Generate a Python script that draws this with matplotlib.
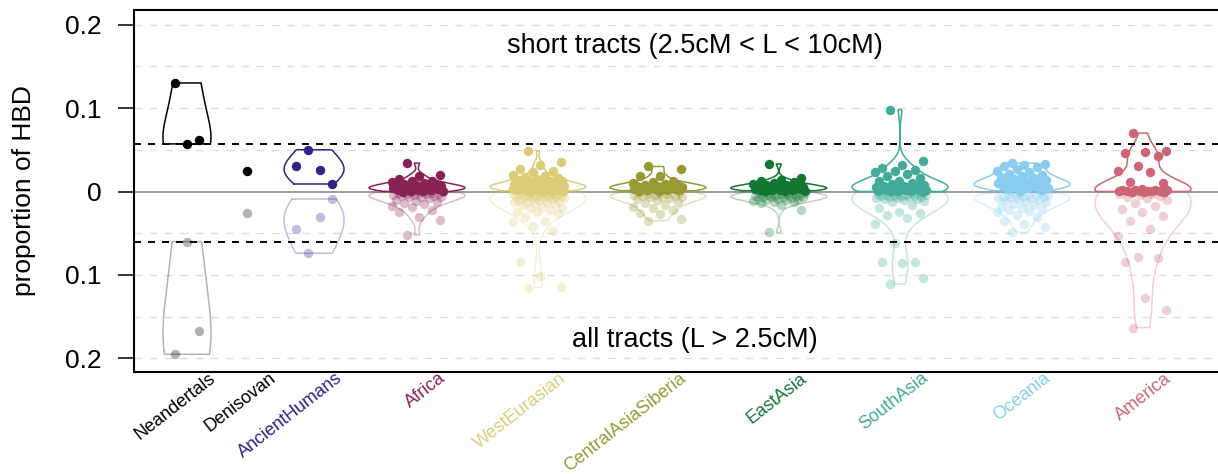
import numpy as np
import matplotlib
matplotlib.use("Agg")
import matplotlib.pyplot as plt
from matplotlib.transforms import blended_transform_factory

plt.rcParams["font.family"] = ["Liberation Sans", "DejaVu Sans"]

# ---- data: proportion of genome in HBD, per individual -------------------
categories = ["Neandertals", "Denisovan", "AncientHumans", "Africa", "WestEurasian",
              "CentralAsiaSiberia", "EastAsia", "SouthAsia", "Oceania", "America"]

neandertals_short = [0.130, 0.057, 0.062]
neandertals_all = [0.195, 0.060, 0.167]

denisovan_short = [0.025]
denisovan_all = [0.026]

ancient_short = [0.030, 0.050, 0.026, 0.009]
ancient_all = [0.045, 0.074, 0.030, 0.009]

africa_short = [0.034, 0.020, 0.019, 0.015, 0.013, 0.012, 0.011, 0.010, 0.009, 0.008,
                0.008, 0.007, 0.007, 0.006, 0.006, 0.005, 0.005, 0.004, 0.004, 0.004,
                0.003, 0.003, 0.003, 0.002, 0.002, 0.002, 0.001, 0.001, 0.001, 0.000]
africa_all = [0.052, 0.034, 0.030, 0.024, 0.022, 0.019, 0.017, 0.015, 0.014, 0.013,
              0.011, 0.010, 0.008, 0.007, 0.006, 0.006, 0.005, 0.005, 0.004, 0.004,
              0.003, 0.003, 0.003, 0.002, 0.002, 0.002, 0.001, 0.001, 0.001, 0.001]

westeurasian_short = [0.049, 0.035, 0.032, 0.027, 0.024, 0.023, 0.020, 0.018, 0.017, 0.016,
                      0.015, 0.014, 0.013, 0.013, 0.012, 0.011, 0.011, 0.010, 0.010, 0.009,
                      0.009, 0.008, 0.008, 0.008, 0.007, 0.007, 0.007, 0.006, 0.006, 0.006,
                      0.005, 0.005, 0.005, 0.005, 0.004, 0.004, 0.004, 0.004, 0.003, 0.003,
                      0.003, 0.003, 0.002, 0.002, 0.002, 0.002, 0.001, 0.001, 0.001, 0.001]
westeurasian_all = [0.115, 0.114, 0.101, 0.085, 0.047, 0.041, 0.036, 0.035, 0.030, 0.026,
                    0.024, 0.024, 0.022, 0.020, 0.020, 0.018, 0.016, 0.015, 0.014, 0.013,
                    0.013, 0.012, 0.011, 0.010, 0.010, 0.009, 0.009, 0.008, 0.008, 0.007,
                    0.007, 0.006, 0.006, 0.006, 0.005, 0.005, 0.005, 0.004, 0.004, 0.004,
                    0.003, 0.003, 0.003, 0.003, 0.002, 0.002, 0.002, 0.002, 0.001, 0.001]

centralasia_short = [0.030, 0.027, 0.019, 0.018, 0.013, 0.011, 0.010, 0.009, 0.008, 0.008,
                     0.007, 0.006, 0.006, 0.005, 0.005, 0.004, 0.004, 0.003, 0.003, 0.003,
                     0.002, 0.002, 0.002, 0.001, 0.001]
centralasia_all = [0.035, 0.033, 0.027, 0.026, 0.022, 0.020, 0.018, 0.016, 0.014, 0.012,
                   0.010, 0.009, 0.008, 0.007, 0.006, 0.006, 0.005, 0.005, 0.004, 0.004,
                   0.003, 0.003, 0.002, 0.002, 0.001]

eastasia_short = [0.033, 0.016, 0.014, 0.012, 0.011, 0.010, 0.009, 0.008, 0.008, 0.007,
                  0.007, 0.006, 0.006, 0.005, 0.005, 0.005, 0.004, 0.004, 0.004, 0.003,
                  0.003, 0.003, 0.003, 0.002, 0.002, 0.002, 0.002, 0.001, 0.001, 0.001]
eastasia_all = [0.049, 0.022, 0.016, 0.014, 0.013, 0.012, 0.011, 0.010, 0.010, 0.009,
                0.009, 0.008, 0.008, 0.007, 0.007, 0.006, 0.006, 0.005, 0.005, 0.005,
                0.004, 0.004, 0.004, 0.003, 0.003, 0.003, 0.002, 0.002, 0.002, 0.001]

southasia_short = [0.098, 0.036, 0.032, 0.028, 0.026, 0.025, 0.023, 0.021, 0.019, 0.016,
                   0.013, 0.012, 0.010, 0.009, 0.008, 0.007, 0.006, 0.006, 0.005, 0.005,
                   0.004, 0.004, 0.004, 0.003, 0.003, 0.003, 0.003, 0.002, 0.002, 0.002,
                   0.002, 0.001, 0.001, 0.001, 0.001, 0.000]
southasia_all = [0.111, 0.104, 0.086, 0.085, 0.084, 0.062, 0.039, 0.032, 0.028, 0.026,
                 0.024, 0.020, 0.016, 0.013, 0.011, 0.010, 0.009, 0.009, 0.008, 0.008,
                 0.007, 0.007, 0.006, 0.006, 0.005, 0.005, 0.005, 0.004, 0.004, 0.004,
                 0.003, 0.003, 0.003, 0.002, 0.002, 0.001]

oceania_short = [0.034, 0.033, 0.032, 0.031, 0.029, 0.027, 0.025, 0.023, 0.021, 0.020,
                 0.019, 0.017, 0.016, 0.015, 0.014, 0.013, 0.012, 0.011, 0.010, 0.010,
                 0.009, 0.008, 0.008, 0.007, 0.006, 0.006, 0.005, 0.004, 0.004, 0.003,
                 0.002, 0.001]
oceania_all = [0.049, 0.042, 0.039, 0.035, 0.030, 0.028, 0.025, 0.023, 0.022, 0.021,
               0.020, 0.018, 0.016, 0.015, 0.013, 0.012, 0.011, 0.010, 0.009, 0.008,
               0.008, 0.007, 0.007, 0.006, 0.006, 0.005, 0.005, 0.004, 0.004, 0.003,
               0.002, 0.002]

america_short = [0.070, 0.048, 0.047, 0.046, 0.042, 0.030, 0.025, 0.023, 0.011, 0.010,
                 0.003, 0.002, 0.002, 0.002, 0.002, 0.001, 0.001, 0.001, 0.001, 0.001,
                 0.001, 0.000, 0.000, 0.000]
america_all = [0.163, 0.142, 0.128, 0.085, 0.080, 0.079, 0.053, 0.045, 0.035, 0.029,
               0.024, 0.021, 0.017, 0.014, 0.010, 0.008, 0.006, 0.005, 0.004, 0.003,
               0.003, 0.002, 0.002, 0.001]

# reference thresholds (dashed lines)
short_threshold = 0.057
all_threshold = 0.0605

short_values = [neandertals_short, denisovan_short, ancient_short, africa_short,
                westeurasian_short, centralasia_short, eastasia_short, southasia_short,
                oceania_short, america_short]
all_values = [neandertals_all, denisovan_all, ancient_all, africa_all,
              westeurasian_all, centralasia_all, eastasia_all, southasia_all,
              oceania_all, america_all]

# ---- layout / style ------------------------------------------------------
positions = [1.558, 2.058, 2.617, 3.475, 4.483, 5.483, 6.49, 7.5, 8.517, 9.525]
violin_halfwidth = [0.2, 0.0, 0.25, 0.4, 0.4, 0.4, 0.4, 0.4, 0.4, 0.4]
jitter_amp = [0.1, 0.0, 0.15, 0.22, 0.22, 0.22, 0.22, 0.22, 0.22, 0.22]
colors = ["#000000", "#000000", "#332288", "#882255", "#DDCC77",
          "#999933", "#117733", "#44AA99", "#88CCEE", "#CC6677"]
faint = 0.3
dot_size = 46


def density_profile(vals, npts=400):
    v = np.asarray(vals, dtype=float)
    sd = v.std(ddof=1)
    h = sd * (4.0 / (3.0 * len(v))) ** 0.2
    grid = np.linspace(v.min(), v.max(), npts)
    dens = np.exp(-0.5 * ((grid[:, None] - v[None, :]) / h) ** 2).sum(axis=1)
    return grid, dens / dens.max()


def spread(n, amp):
    if n == 1:
        return np.zeros(1)
    if n <= 4:
        return np.linspace(-amp, amp, n)
    u = (np.arange(n) * 0.6180339887 + 0.31) % 1.0
    return (2 * u - 1) * amp


def draw_violin(ax, pos, vals, half, sign, color, alpha):
    grid, dens = density_profile(vals)
    y = sign * grid
    xs = np.concatenate([pos - half * dens, (pos + half * dens)[::-1], [pos - half * dens[0]]])
    ys = np.concatenate([y, y[::-1], [y[0]]])
    ax.plot(xs, ys, color=color, alpha=alpha, lw=1.1, zorder=3, solid_joinstyle="round")


fig = plt.figure(figsize=(12.18, 4.74), dpi=100)
ax = fig.add_axes([134 / 1218, 102 / 474, 1084 / 1218, 362 / 474])

ax.set_xlim(1.1167, 10.15)
ax.set_ylim(-0.2162, 0.2174)

# background grid and reference lines
for g in [-0.2, -0.15, -0.1, -0.05, 0.05, 0.1, 0.15, 0.2]:
    ax.axhline(g, color="#dedede", lw=1.0, ls=(0, (5.5, 5.5)), zorder=0)
ax.axhline(0, color="#8c8c8c", lw=1.2, zorder=1)
ax.axhline(short_threshold, color="black", lw=1.4, ls=(0, (3.6, 3.6)), zorder=5)
ax.axhline(-all_threshold, color="black", lw=1.4, ls=(0, (3.6, 3.6)), zorder=5)

for i, cat in enumerate(categories):
    pos, col = positions[i], colors[i]
    s_vals, a_vals = short_values[i], all_values[i]
    offs = spread(len(s_vals), jitter_amp[i])
    # all tracts, mirrored below zero (faint)
    if violin_halfwidth[i] > 0:
        draw_violin(ax, pos, a_vals, violin_halfwidth[i], -1, col, faint)
    ax.scatter(pos + offs, -np.asarray(a_vals), s=dot_size, color=col, alpha=faint,
               linewidths=0, zorder=4)
    # short tracts above zero
    if violin_halfwidth[i] > 0:
        draw_violin(ax, pos, s_vals, violin_halfwidth[i], 1, col, 1.0)
    ax.scatter(pos + offs, s_vals, s=dot_size, color=col, linewidths=0, zorder=6)

# axes styling
for side in ["left", "top", "bottom"]:
    ax.spines[side].set_linewidth(1.5)
ax.spines["right"].set_visible(False)
ax.set_xticks([])
ax.set_yticks([-0.2, -0.1, 0, 0.1, 0.2])
ax.set_yticklabels(["0.2", "0.1", "0", "0.1", "0.2"])
ax.tick_params(axis="y", length=11.5, width=1.1, pad=12, labelsize=19)

fig.text(24 / 1218, 1 - 191 / 474, "proportion of HBD", rotation=90,
         ha="center", va="center", fontsize=19)

band_tr = blended_transform_factory(ax.transAxes, ax.transData)
ax.text(0.5175, 0.174, "short tracts (2.5cM < L < 10cM)", transform=band_tr,
        ha="center", va="center", fontsize=19.5)
ax.text(0.5175, -0.178, "all tracts (L > 2.5cM)", transform=band_tr,
        ha="center", va="center", fontsize=19.5)

lab_tr = blended_transform_factory(ax.transData, ax.transAxes)
for i, cat in enumerate(categories):
    ax.text(positions[i] + 0.22, -0.012, cat, transform=lab_tr, rotation=38,
            ha="right", va="center", rotation_mode="anchor", fontsize=13,
            color=colors[i], clip_on=False)

fig.savefig("out.png", dpi=100)
